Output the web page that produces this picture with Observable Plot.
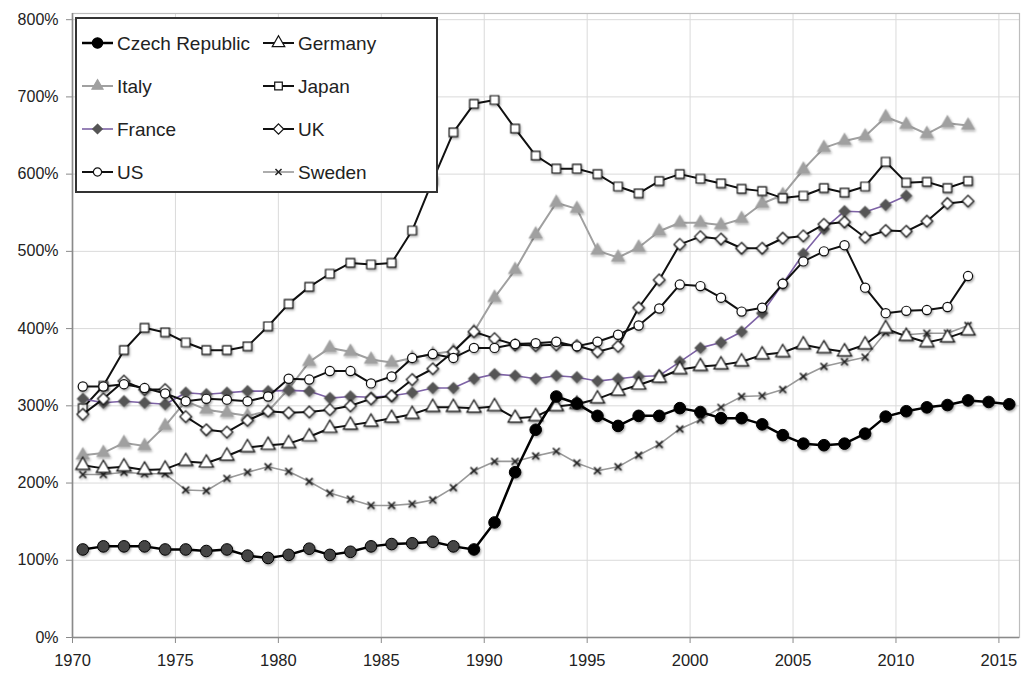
<!DOCTYPE html>
<html><head><meta charset="utf-8">
<script src="https://cdn.jsdelivr.net/npm/d3@7"></script>
<script src="https://cdn.jsdelivr.net/npm/@observablehq/plot@0.6"></script>
<style>
body{margin:0;background:#fff;}
#chart{position:relative;width:1032px;height:673px;}
</style>
</head><body><div id="chart"></div>
<script>
// ---- data ----
const years = [1970,1971,1972,1973,1974,1975,1976,1977,1978,1979,1980,1981,1982,1983,1984,1985,1986,1987,1988,1989,1990,1991,1992,1993,1994,1995,1996,1997,1998,1999,2000,2001,2002,2003,2004,2005,2006,2007,2008,2009,2010,2011,2012,2013,2014,2015];
const czech   = [114,118,118,118,114,114,112,114,106,103, 107,115,107,111,118,121,122,124,118,114, 149,214,269,312,303,287,274,287,287,297, 292,284,284,276,262,251,249,251,264,286, 293,298,301,307,305,302];
const germany = [223,219,221,217,218,228,226,235,246,249, 251,260,271,275,279,284,289,298,298,297, 299,284,286,299,302,309,319,327,336,347, 351,353,357,366,369,379,374,370,379,400, 390,382,388,397];
const italy   = [236,239,252,248,274,306,295,291,287,293, 322,357,375,370,360,356,362,367,371,396, 440,476,522,563,555,501,492,505,526,537, 537,534,542,562,573,606,634,643,649,674, 664,652,666,663];
const japan   = [297,326,372,401,395,382,372,372,377,403, 432,454,471,485,483,485,527,592,654,691, 696,659,624,607,607,600,584,575,591,600, 594,588,581,578,569,572,582,576,584,616, 589,590,582,591];
const france  = [309,304,306,304,302,317,315,317,319,319, 320,319,310,312,311,313,317,323,323,335, 341,339,335,339,337,332,335,338,339,357, 375,382,396,420,458,497,529,552,551,560, 572];
const uk      = [289,309,332,321,321,286,269,266,281,293, 291,292,295,300,309,313,334,348,370,396, 387,379,378,379,378,370,377,427,463,509, 519,516,504,504,517,520,535,538,518,527, 526,539,562,565];
const us      = [325,325,328,323,316,306,309,308,306,312, 335,334,345,345,329,338,362,367,362,375, 375,380,381,383,377,383,392,404,426,457, 455,440,422,427,458,487,500,508,453,420, 423,424,428,468];
const sweden  = [211,211,214,212,212,191,190,206,214,221, 215,202,187,179,171,171,173,178,194,216, 228,228,235,241,226,216,221,236,250,270, 282,298,312,313,321,338,351,357,363,395, 392,394,394,404];
const xTicks = [1970,1975,1980,1985,1990,1995,2000,2005,2010,2015];
const yTicks = [0,100,200,300,400,500,600,700,800];

// ---- styles ----
const series = [
  {name:"Italy",          values:italy,   line:"#a0a0a0", lw:2,   symbol:"triangle", r:4.6, fill:"#a0a0a0", mstroke:"#a0a0a0"},
  {name:"Japan",          values:japan,   line:"#111",    lw:2,   symbol:"square",   r:4.8, fill:"#fff",    mstroke:"#111"},
  {name:"Sweden",         values:sweden,  line:"#999",    lw:1.6, symbol:"times",    r:3.2, fill:"none",    mstroke:"#222"},
  {name:"France",         values:france,  line:"#7e63a6", lw:1.6, symbol:"diamond2", r:4.8, fill:"#555",    mstroke:"#555"},
  {name:"UK",             values:uk,      line:"#111",    lw:2,   symbol:"diamond2", r:5.2, fill:"#fff",    mstroke:"#111"},
  {name:"US",             values:us,      line:"#111",    lw:2,   symbol:"circle",   r:4.6, fill:"#fff",    mstroke:"#111"},
  {name:"Germany",        values:germany, line:"#111",    lw:2,   symbol:"triangle", r:5.2, fill:"#fff",    mstroke:"#111"},
  {name:"Czech Republic", values:czech,   line:"#000",    lw:2.5, symbol:"circle",   r:5.8, fill:"#000",    mstroke:"#000"}
];
const legendOrder = ["Czech Republic","Germany","Italy","Japan","France","UK","US","Sweden"];

function rows(s){ return s.values.map((v,i)=>({year:years[i], value:v})); }
const X = d => d.year + 0.5;

const marks = [
  Plot.gridY(yTicks, {stroke:"#dadada", strokeOpacity:1, strokeWidth:1}),
  Plot.gridX(xTicks, {stroke:"#dadada", strokeOpacity:1, strokeWidth:1}),
  Plot.frame({stroke:"#bdbdbd", strokeWidth:1.2}),
  Plot.ruleY([0], {stroke:"#8a8a8a", strokeWidth:1.6}),
  Plot.ruleX([1970], {stroke:"#8a8a8a", strokeWidth:1.6}),
  Plot.axisY(yTicks, {tickFormat:d=>d+"%", tickSize:6, tickPadding:8, fontSize:16, stroke:"#8a8a8a", fill:"#222", label:null}),
  Plot.axisX(xTicks, {tickFormat:d=>String(d), tickSize:6, tickPadding:11, fontSize:16.5, stroke:"#8a8a8a", fill:"#222", label:null})
];
for (const s of series){
  const data = rows(s);
  marks.push(Plot.line(data, {x:X, y:"value", stroke:s.line, strokeWidth:s.lw}));
  if (s.name === "Czech Republic"){
    marks.push(Plot.dot(data.filter(d=>d.year<1989), {x:X, y:"value", symbol:s.symbol, r:s.r, fill:"#444", stroke:"#000", strokeWidth:1}));
    marks.push(Plot.dot(data.filter(d=>d.year>=1989), {x:X, y:"value", symbol:s.symbol, r:s.r, fill:"#000", stroke:"#000", strokeWidth:1}));
  } else {
    marks.push(Plot.dot(data, {x:X, y:"value", symbol:s.symbol, r:s.r, fill:s.fill, stroke:s.mstroke, strokeWidth: s.symbol==="times"?1.6:1.2}));
  }
}

const plot = Plot.plot({
  width:1032, height:673,
  marginLeft:72, marginRight:13, marginTop:13, marginBottom:36,
  x:{domain:[1970,2016], label:null},
  y:{domain:[0,808], label:null},
  style:{fontFamily:"'Liberation Sans', Arial, sans-serif", fontSize:"16px", background:"#fff", color:"#222"},
  marks
});
document.getElementById("chart").appendChild(plot);

// drop shadow on markers
const svg = d3.select(plot);
const defs = svg.insert("defs", ":first-child");
const f = defs.append("filter").attr("id","msh").attr("x","-50%").attr("y","-50%").attr("width","200%").attr("height","200%");
f.append("feDropShadow").attr("dx",1).attr("dy",1.5).attr("stdDeviation",1).attr("flood-color","#000").attr("flood-opacity",0.35);
svg.selectAll('g[aria-label="dot"]').attr("filter","url(#msh)");

// legend (inside plot, top-left)
const lg = svg.append("g").attr("font-family","'Liberation Sans', Arial, sans-serif").attr("font-size",19).attr("text-anchor","start");
lg.append("rect").attr("x",76).attr("y",18).attr("width",361).attr("height",174).attr("fill","#fff").attr("stroke","#333").attr("stroke-width",2);
const byName = Object.fromEntries(series.map(s=>[s.name,s]));
const symMap = {circle:d3.symbolCircle, triangle:d3.symbolTriangle, square:d3.symbolSquare, diamond2:d3.symbolDiamond2, times:d3.symbolTimes};
legendOrder.forEach((name,i)=>{
  const s = byName[name];
  const col = i%2, row = Math.floor(i/2);
  const x0 = col===0 ? 82 : 263, cy = 43 + row*43;
  const e = lg.append("g");
  e.append("line").attr("x1",x0).attr("x2",x0+31).attr("y1",cy).attr("y2",cy).attr("stroke",s.line).attr("stroke-width",s.lw);
  const fill = name==="Czech Republic" ? "#000" : s.fill;
  e.append("path").attr("transform",`translate(${x0+15.5},${cy})`)
    .attr("d", d3.symbol(symMap[s.symbol], s.r*s.r*Math.PI*0.8)())
    .attr("fill",fill).attr("stroke",s.mstroke).attr("stroke-width", s.symbol==="times"?1.5:1.2);
  e.append("text").attr("x",x0+35).attr("y",cy).attr("dy","0.35em").attr("fill","#222").text(name);
});
</script>
</body></html>
